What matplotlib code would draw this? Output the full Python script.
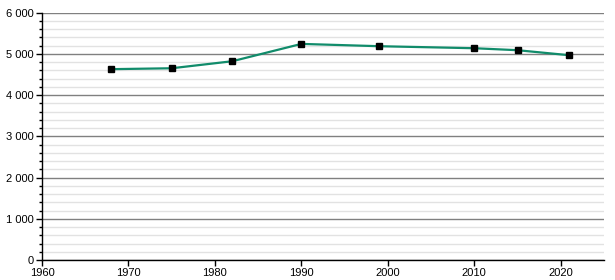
import matplotlib.pyplot as plt
from matplotlib.ticker import MultipleLocator, FuncFormatter

years = [1968, 1975, 1982, 1990, 1999, 2010, 2015, 2021]
population = [4630, 4652, 4822, 5243, 5187, 5138, 5090, 4968]

plt.rcParams['font.family'] = ['Liberation Sans', 'DejaVu Sans']

fig = plt.figure(figsize=(6.15, 2.8), dpi=100)
ax = fig.add_axes([42 / 615, 20 / 280, 562 / 615, 247.3 / 280])

ax.set_xlim(1960, 2025)
ax.set_ylim(0, 6000)

ax.yaxis.set_major_locator(MultipleLocator(1000))
ax.yaxis.set_minor_locator(MultipleLocator(200))
ax.xaxis.set_major_locator(MultipleLocator(10))
ax.yaxis.set_major_formatter(FuncFormatter(lambda v, p: f"{int(v):,}".replace(",", " ")))

ax.grid(axis='y', which='major', color='#808080', linewidth=1)
ax.grid(axis='y', which='minor', color='#e2e2e2', linewidth=1)
ax.set_axisbelow(True)

for s in ['top', 'right']:
    ax.spines[s].set_visible(False)
ax.spines['left'].set_linewidth(1)
ax.spines['bottom'].set_linewidth(1)

ax.tick_params(axis='both', which='major', labelsize=8, length=4, width=1, pad=2)
ax.tick_params(axis='y', which='minor', length=2, width=1)

ax.plot(years, population, color='#118c6b', linewidth=1.6, zorder=3)
ax.plot(years, population, linestyle='none', marker='s', markersize=4,
        color='black', zorder=4)

fig.savefig('out.png', dpi=100)
